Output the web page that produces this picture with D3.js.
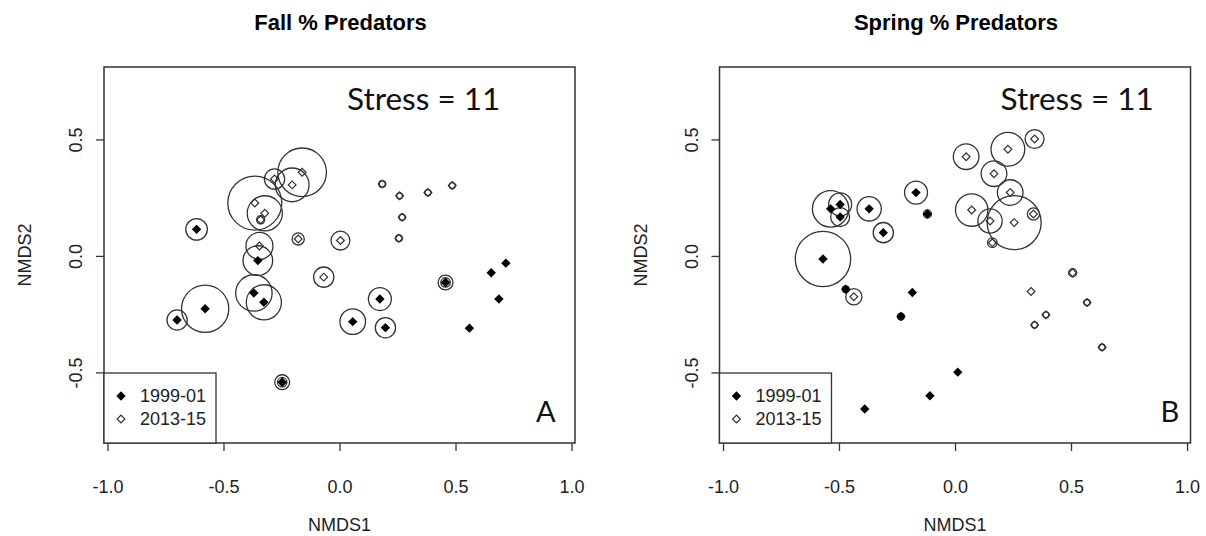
<!DOCTYPE html>
<html>
<head>
<meta charset="utf-8">
<script src="https://cdn.jsdelivr.net/npm/d3@7"></script>
<style>
  body { margin: 0; background: #fff; }
  svg { display: block; }
</style>
</head>
<body>
<svg id="chart" width="1206" height="536"></svg>
<script>
// NMDS ordination of sites, % predators shown as circle size.
// Fall, 1999-01 (filled diamonds)
const fallX1999   = [-0.616, -0.579, -0.700, -0.369, -0.326, -0.352, 0.057, 0.174, 0.198, 0.457, 0.654, 0.717, 0.687, 0.560, -0.247];
const fallY1999   = [ 0.114, -0.227, -0.275, -0.159, -0.199, -0.020, -0.282, -0.185, -0.308, -0.114, -0.072, -0.031, -0.185, -0.310, -0.542];
const fallPct1999 = [16, 35, 15, 27, 26, 22, 19, 17, 15, 11, 0, 0, 0, 0, 11];
// Fall, 2013-15 (open diamonds)
const fallX2013   = [-0.365, -0.322, -0.340, -0.280, -0.161, -0.204, -0.178, 0.004, -0.068, -0.345, 0.184, 0.259, 0.381, 0.486, 0.270, 0.256, 0.457, -0.247];
const fallY2013   = [ 0.227, 0.183, 0.155, 0.330, 0.359, 0.305, 0.073, 0.066, -0.091, 0.043, 0.309, 0.258, 0.272, 0.302, 0.166, 0.076, -0.114, -0.542];
const fallPct2013 = [40, 26, 6, 15, 36, 25, 9, 14, 15, 20, 5, 4.5, 4.5, 4.5, 4.5, 5, 7, 7];
// Spring, 1999-01
const springX1999   = [-0.536, -0.495, -0.495, -0.370, -0.309, -0.168, -0.119, -0.569, -0.471, -0.184, -0.233, -0.389, -0.108, 0.012];
const springY1999   = [ 0.202, 0.221, 0.167, 0.202, 0.100, 0.272, 0.180, -0.013, -0.143, -0.157, -0.260, -0.657, -0.600, -0.499];
const springPct1999 = [27, 17, 14, 18, 15, 17, 6, 41, 5, 0, 5, 0, 0, 0];
// Spring, 2013-15
const springX2013   = [0.048, 0.228, 0.343, 0.168, 0.238, 0.072, 0.151, 0.255, 0.338, 0.161, 0.507, 0.328, 0.569, 0.392, 0.343, 0.634, -0.436];
const springY2013   = [0.426, 0.458, 0.502, 0.353, 0.272, 0.197, 0.150, 0.143, 0.180, 0.057, -0.072, -0.153, -0.200, -0.253, -0.296, -0.392, -0.175];
const springPct2013 = [19, 25, 14, 19, 19, 24, 18, 40, 9, 7, 6, 0, 4.5, 4.5, 4.5, 4.5, 12];

const tickValues = [-1.0, -0.5, 0.0, 0.5, 1.0];
const yTickValues = [-0.5, 0.0, 0.5];
const legendLabels = ["1999-01", "2013-15"];
const panelTitles = ["Fall % Predators", "Spring % Predators"];
const panelLetters = ["A", "B"];
const stressLabel = "Stress = 11";

const svg = d3.select("#chart");
const boxW = 471, boxTop = 67, boxH = 376;
const axisFont = "'Liberation Sans', Arial, sans-serif";
const noteFont = "Lato, 'Open Sans', sans-serif";

const rScale = d3.scaleLinear().domain([0, 40]).range([0, 27]);
const diamond = d3.symbol().type(d3.symbolSquare);

const panels = [
  { left: 104, title: panelTitles[0], letter: panelLetters[0],
    a: { x: fallX1999, y: fallY1999, p: fallPct1999 },
    b: { x: fallX2013, y: fallY2013, p: fallPct2013 },
    stressX: 243, letterX: 432 },
  { left: 719.5, title: panelTitles[1], letter: panelLetters[1],
    a: { x: springX1999, y: springY1999, p: springPct1999 },
    b: { x: springX2013, y: springY2013, p: springPct2013 },
    stressX: 281, letterX: 441 }
];

const fmt = d => d.toFixed(1);

panels.forEach(pn => {
  const g = svg.append("g").attr("transform", `translate(${pn.left},0)`);
  const x = d3.scaleLinear().domain([-1.015, 1.015]).range([0, boxW]);
  const y = d3.scaleLinear().domain([-0.803, 0.811]).range([boxTop + boxH, boxTop]);

  const ptsA = pn.a.x.map((v, i) => ({ x: v, y: pn.a.y[i], p: pn.a.p[i] }));
  const ptsB = pn.b.x.map((v, i) => ({ x: v, y: pn.b.y[i], p: pn.b.p[i] }));

  // circles sized by % predators
  g.append("g").selectAll("circle")
    .data(ptsA.concat(ptsB).filter(d => d.p > 0))
    .join("circle")
    .attr("cx", d => x(d.x)).attr("cy", d => y(d.y))
    .attr("r", d => rScale(d.p))
    .attr("fill", "none").attr("stroke", "#333").attr("stroke-width", 1.3);

  // open diamonds
  g.append("g").selectAll("path")
    .data(ptsB).join("path")
    .attr("d", diamond.size(30)())
    .attr("transform", d => `translate(${x(d.x)},${y(d.y)}) rotate(45)`)
    .attr("fill", "none").attr("stroke", "#333").attr("stroke-width", 1.2);

  // filled diamonds
  g.append("g").selectAll("path")
    .data(ptsA).join("path")
    .attr("d", diamond.size(44)())
    .attr("transform", d => `translate(${x(d.x)},${y(d.y)}) rotate(45)`)
    .attr("fill", "#000");

  // axes
  const xAxis = g.append("g")
    .attr("transform", `translate(0,${boxTop + boxH})`)
    .call(d3.axisBottom(x).tickValues(tickValues).tickFormat(fmt).tickSize(8).tickPadding(29));
  const yAxis = g.append("g")
    .call(d3.axisLeft(y).tickValues(yTickValues).tickFormat(fmt).tickSize(8));
  [xAxis, yAxis].forEach(a => {
    a.select(".domain").remove();
    a.selectAll(".tick line").attr("stroke", "#333").attr("stroke-width", 1.3);
    a.selectAll("text").attr("font-family", axisFont).attr("font-size", 18).attr("fill", "#222");
  });
  yAxis.selectAll(".tick text")
    .attr("x", null).attr("dy", null)
    .attr("text-anchor", "middle")
    .attr("transform", "translate(-22,0) rotate(-90)");

  // plot box
  g.append("rect")
    .attr("x", 0).attr("y", boxTop).attr("width", boxW).attr("height", boxH)
    .attr("fill", "none").attr("stroke", "#333").attr("stroke-width", 1.5);

  // axis titles
  g.append("text").attr("x", boxW / 2).attr("y", 531)
    .attr("text-anchor", "middle").attr("font-family", axisFont).attr("font-size", 18).attr("fill", "#222")
    .text("NMDS1");
  g.append("text")
    .attr("transform", `translate(-73,${boxTop + boxH / 2}) rotate(-90)`)
    .attr("text-anchor", "middle").attr("font-family", axisFont).attr("font-size", 18).attr("fill", "#222")
    .text("NMDS2");

  // panel title
  g.append("text").attr("x", boxW / 2 + 1).attr("y", 30)
    .attr("text-anchor", "middle").attr("font-family", axisFont).attr("font-weight", "bold")
    .attr("font-size", 22).attr("fill", "#000")
    .text(pn.title);

  // stress note and panel letter
  g.append("text").attr("x", pn.stressX).attr("y", 110)
    .attr("font-family", noteFont).attr("font-size", 31.5).attr("fill", "#111")
    .text(stressLabel);
  g.append("text").attr("x", pn.letterX).attr("y", 422)
    .attr("font-family", noteFont).attr("font-size", 29).attr("fill", "#111")
    .text(pn.letter);

  // legend
  const lg = g.append("g").attr("transform", `translate(0,${boxTop + boxH - 70})`);
  lg.append("rect").attr("width", 112).attr("height", 70)
    .attr("fill", "#fff").attr("stroke", "#333").attr("stroke-width", 1.3);
  legendLabels.forEach((lab, i) => {
    const cy = 23 + i * 23;
    lg.append("path")
      .attr("d", diamond.size(i === 0 ? 44 : 30)())
      .attr("transform", `translate(17,${cy}) rotate(45)`)
      .attr("fill", i === 0 ? "#000" : "none")
      .attr("stroke", i === 0 ? "none" : "#333").attr("stroke-width", 1.2);
    lg.append("text").attr("x", 36).attr("y", cy).attr("dy", "0.35em")
      .attr("font-family", axisFont).attr("font-size", 18).attr("fill", "#222")
      .text(lab);
  });
});
</script>
</body>
</html>
